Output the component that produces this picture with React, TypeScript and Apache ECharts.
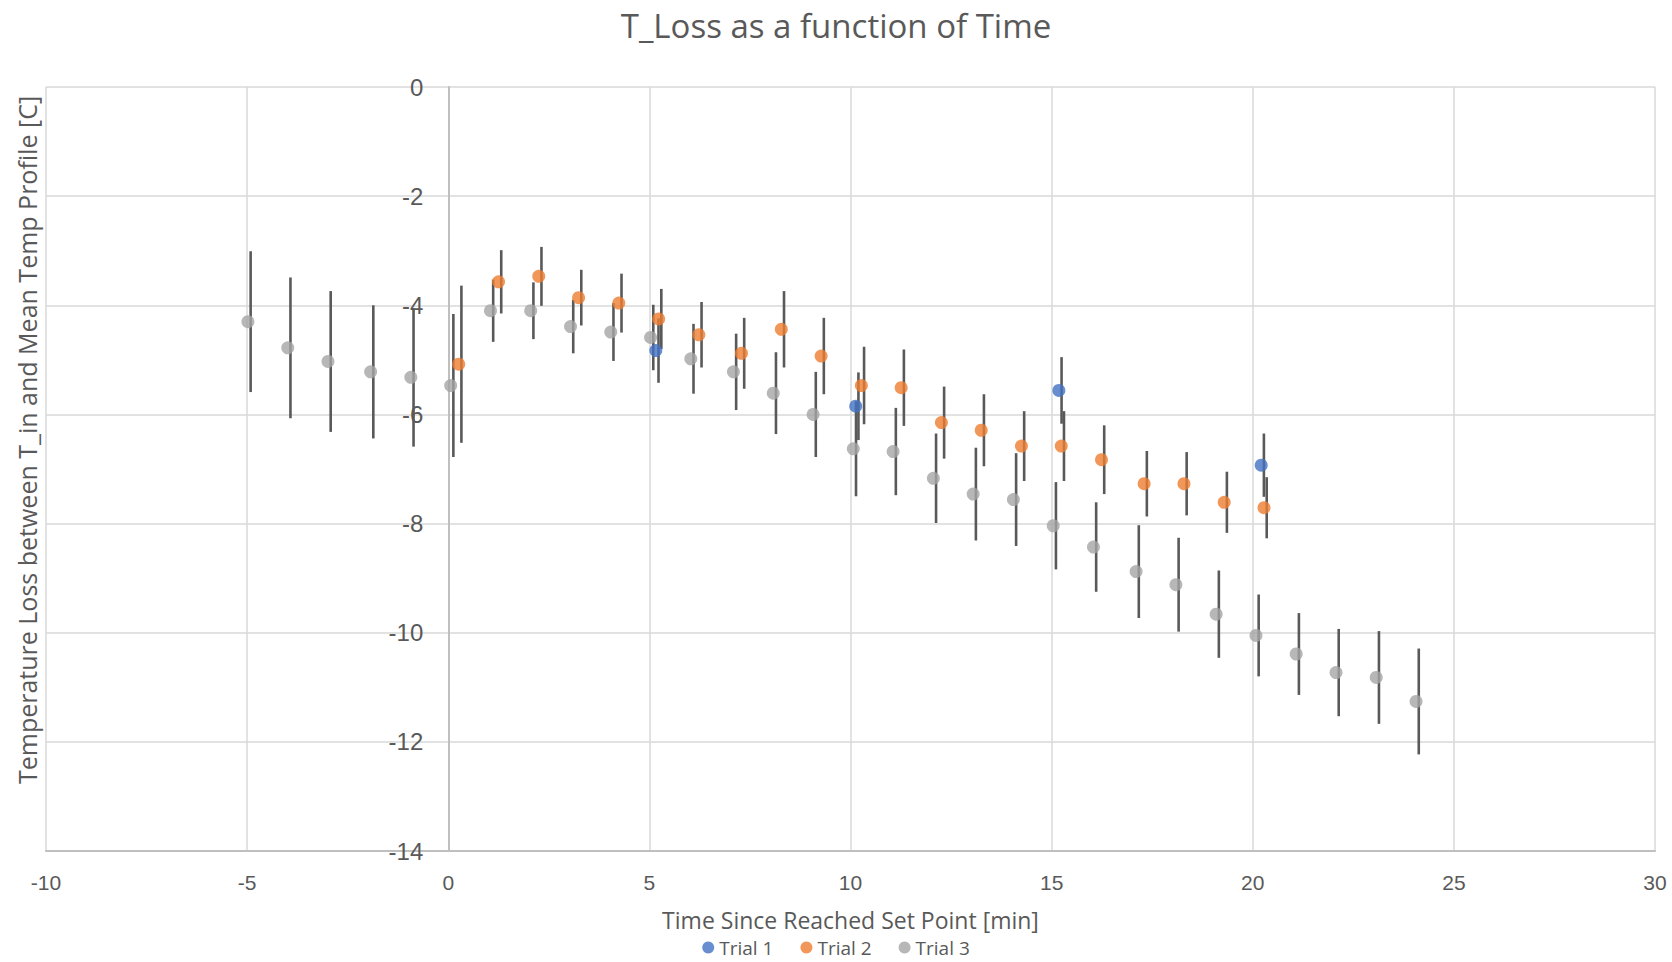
import React, { useEffect, useRef } from "react";
import * as echarts from "echarts";

const titleText = "T_Loss as a function of Time";
const xAxisName = "Time Since Reached Set Point [min]";
const yAxisName = "Temperature Loss between T_in and Mean Temp Profile [C]";
const seriesNames = ["Trial 1", "Trial 2", "Trial 3"];
const seriesColors = ["#4472C4", "#ED7D31", "#A5A5A5"];

const trial1X = [5.16, 10.13, 15.18, 20.21];
const trial1Y = [-4.83, -5.85, -5.56, -6.93];
const trial1Err = [0.59, 0.62, 0.61, 0.58];

const trial2X = [0.26, 1.25, 2.25, 3.24, 4.24, 5.23, 6.23, 7.29, 8.28, 9.27, 10.27, 11.26, 12.26, 13.25, 14.25, 15.24, 16.24, 17.3, 18.29, 19.29, 20.28];
const trial2Y = [-5.08, -3.57, -3.47, -3.86, -3.96, -4.25, -4.54, -4.88, -4.44, -4.93, -5.47, -5.51, -6.15, -6.29, -6.58, -6.58, -6.83, -7.27, -7.27, -7.61, -7.71];
const trial2Err = [1.44, 0.58, 0.54, 0.51, 0.54, 0.55, 0.6, 0.65, 0.7, 0.7, 0.71, 0.7, 0.66, 0.66, 0.64, 0.64, 0.63, 0.6, 0.58, 0.56, 0.56];

const trial3X = [-4.98, -3.99, -2.99, -1.93, -0.93, 0.06, 1.05, 2.05, 3.04, 4.04, 5.03, 6.03, 7.09, 8.08, 9.07, 10.07, 11.06, 12.06, 13.05, 14.05, 15.04, 16.04, 17.1, 18.09, 19.09, 20.08, 21.08, 22.07, 23.07, 24.06];
const trial3Y = [-4.3, -4.78, -5.03, -5.22, -5.32, -5.47, -4.1, -4.1, -4.39, -4.49, -4.59, -4.98, -5.22, -5.61, -6.0, -6.63, -6.68, -7.17, -7.46, -7.56, -8.04, -8.43, -8.88, -9.12, -9.66, -10.05, -10.39, -10.73, -10.82, -11.26];
const trial3Err = [1.29, 1.29, 1.29, 1.22, 1.27, 1.31, 0.57, 0.52, 0.49, 0.53, 0.6, 0.64, 0.7, 0.75, 0.78, 0.87, 0.8, 0.82, 0.85, 0.85, 0.8, 0.82, 0.85, 0.86, 0.8, 0.75, 0.75, 0.8, 0.85, 0.97];

const xMin = -10;
const xMax = 30;
const xInterval = 5;
const yMin = -14;
const yMax = 0;
const yInterval = 2;

const TEXT = "#595959";
const W = 1672;
const H = 962;
const GRID = { left: 46, right: 17, top: 87, bottom: 111 };

export default function App() {
  const ref = useRef<HTMLDivElement>(null);

  useEffect(() => {
    if (!ref.current) return;
    const chart = echarts.init(ref.current, undefined, { renderer: "svg" });

    const xs = [trial1X, trial2X, trial3X];
    const ys = [trial1Y, trial2Y, trial3Y];
    const es = [trial1Err, trial2Err, trial3Err];

    // y axis crosses the x axis at x = 0 (as in the reference)
    const gridWidth = W - GRID.left - GRID.right;
    const yAxisOffset = -gridWidth * (0 - xMin) / (xMax - xMin);

    const errorSeries = xs.map((xArr, i) => ({
      type: "custom",
      name: seriesNames[i] + " error",
      z: 2,
      silent: true,
      data: xArr.map((x, j) => [x, ys[i][j], es[i][j]]),
      encode: { x: 0, y: 1 },
      renderItem: (params: any, api: any) => {
        const x = api.value(0);
        const y = api.value(1);
        const e = api.value(2);
        const top = api.coord([x, y + e]);
        const bot = api.coord([x, y - e]);
        return {
          type: "line",
          shape: { x1: top[0] + 2.7, y1: top[1], x2: bot[0] + 2.7, y2: bot[1] },
          style: { stroke: "#595959", lineWidth: 2.6 },
        };
      },
    }));

    const scatterSeries = xs.map((xArr, i) => ({
      type: "scatter",
      name: seriesNames[i],
      z: 3,
      symbol: "circle",
      symbolSize: 13,
      itemStyle: { color: seriesColors[i] },
      data: xArr.map((x, j) => [x, ys[i][j]]),
    }));

    chart.setOption({
      animation: false,
      backgroundColor: "#ffffff",
      title: {
        text: titleText,
        left: "center",
        top: 4,
        textStyle: {
          fontFamily: "Open Sans",
          fontSize: 33,
          fontWeight: "normal",
          color: TEXT,
        },
      },
      legend: {
        data: seriesNames,
        left: "center",
        top: 933,
        icon: "circle",
        itemWidth: 12,
        itemHeight: 12,
        itemGap: 27,
        textStyle: { fontFamily: "Open Sans", fontSize: 19, color: TEXT },
      },
      grid: { ...GRID, containLabel: false, outerBoundsMode: "none" },
      xAxis: {
        type: "value",
        min: xMin,
        max: xMax,
        interval: xInterval,
        name: xAxisName,
        nameLocation: "middle",
        nameGap: 57,
        nameTextStyle: { fontFamily: "Open Sans", fontSize: 23, color: TEXT },
        axisLine: { onZero: false, lineStyle: { color: "#bfbfbf", width: 2 } },
        axisTick: { show: false },
        axisLabel: { fontFamily: "Liberation Sans", fontSize: 21, color: TEXT, margin: 21 },
        splitLine: { show: true, lineStyle: { color: "#d9d9d9", width: 1.5 } },
      },
      yAxis: {
        type: "value",
        min: yMin,
        max: yMax,
        interval: yInterval,
        offset: yAxisOffset,
        axisLine: { show: true, onZero: false, lineStyle: { color: "#bfbfbf", width: 2 } },
        axisTick: { show: false },
        axisLabel: { fontFamily: "Liberation Sans", fontSize: 24, color: TEXT, margin: 25 },
        splitLine: { show: true, lineStyle: { color: "#d9d9d9", width: 1.5 } },
      },
      graphic: [
        {
          type: "text",
          x: 27,
          y: 440,
          rotation: Math.PI / 2,
          style: {
            text: yAxisName,
            fontFamily: "Open Sans",
            fontSize: 25,
            fill: TEXT,
            align: "center",
            verticalAlign: "middle",
          },
        },
      ],
      series: [...errorSeries, ...scatterSeries],
    } as any);

    return () => chart.dispose();
  }, []);

  return (
    <div
      ref={ref}
      style={{ position: "fixed", left: 0, top: 0, width: W, height: H }}
    />
  );
}
